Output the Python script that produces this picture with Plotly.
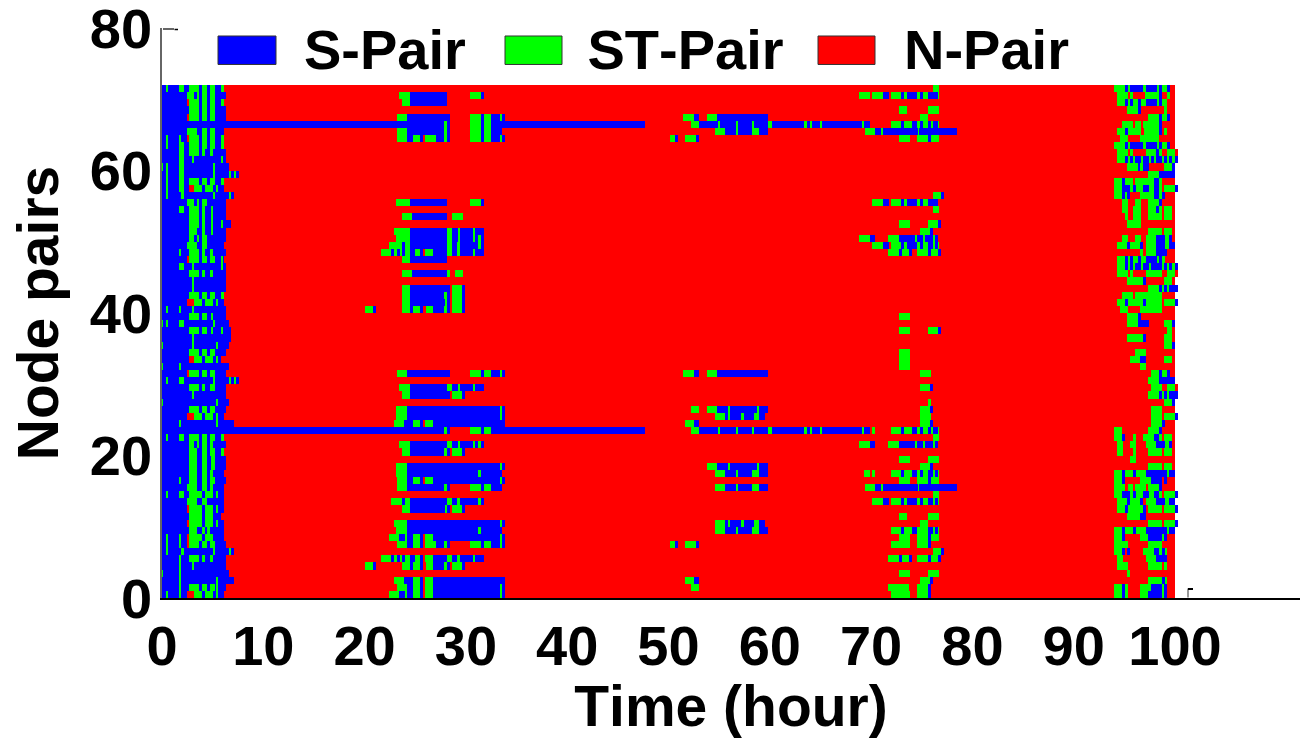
import numpy as np
import plotly.graph_objects as go

# Time is sampled in steps of SAMPLE_HOURS; run limits below are sample indices.
SAMPLE_HOURS = 100 / 1013
N_ROWS = 72
X_TICKS = [0, 10, 20, 30, 40, 50, 60, 70, 80, 90, 100]
Y_TICKS = [0, 20, 40, 60, 80]
STATE_NAMES = ["S-Pair", "ST-Pair", "N-Pair"]
STATE_COLORS = ["#0000ff", "#00ff00", "#ff0000"]

# Rows are counted from the top row (0) to the bottom row (71).
LEFT_S_END = [62,64,62,64,64,483,62,62,62,64,64,67,77,62,62,72,64,64,64,69,64,64,62,64,62,64,64,64,64,62,62,64,64,67,69,69,
              67,64,59,67,64,77,64,64,67,64,62,72,483,62,64,62,64,64,62,64,62,62,62,62,59,62,62,62,64,72,64,64,67,72,64,62]

ST_LEFT = {
0:[4,6,17,22,27,37,40,45,48,53,59,62],1:[25,32,35,37,40,45,48,53],2:[27,37,40,45,48,53,59,62],3:[27,37,40,45,48,53],
4:[27,37,40,45,48,53],6:[25,35,40,45,48,53],7:[4,6,17,19,27,37,40,45,48,53,59,62],8:[4,6,17,22,27,37,40,45,48,53,59,62],
9:[17,22,27,37,40,43,48,51],10:[17,22,30,32,59,61],11:[0,1,4,6,17,22,51,53],12:[4,6,17,22,51,53,67,69,72,74],
13:[4,6,17,22,27,37,40,45,48,53,59,62],14:[4,6,17,22,32,40,43,51,54,56],15:[4,6,19,22,51,53,67,69],16:[25,32,35,37,40,45],
17:[17,22,27,37,40,43,49,51],18:[27,37,40,43,49,51],19:[27,37,40,43,49,51,59,61],20:[27,35,40,43,49,51],21:[27,32,35,37,40,45],
22:[25,35,40,45],23:[17,19,27,37,40,43,48,51],24:[27,37,40,45,48,53,59,61],25:[17,22,30,32,59,61],26:[27,37,40,43,48,51],
27:[30,32],28:[30,32],29:[27,37,40,45,48,53,59,62],30:[32,40,43,51,54,56],31:[4,6,17,19,30,32],32:[27,37,40,45,49,51],
33:[0,1,4,6,17,22,51,53],34:[27,37,40,45,49,51,59,61],35:[30,32],36:[0,1,30,32,54,56],37:[27,37,40,45,48,53],38:[32,40,43,51,54,56],
39:[0,1,17,19],40:[27,37,40,45,48,53],41:[4,6,17,22,51,53,67,69,72,74],42:[27,37,40,43,48,53],43:[30,32],44:[0,1,54,56],
45:[27,37,40,45,48,53],46:[32,40,43,51,54,56],47:[17,19,54,56],49:[4,6,17,22,27,37,40,45,48,53,59,62],50:[27,32,35,37,40,45,48,51],
51:[27,35,40,45,48,53,59,62],52:[27,35,40,45,49,53],53:[27,35,40,45,49,53],54:[27,35,40,45,48,51],55:[17,19,27,35,40,45,48,53],
56:[25,35,40,45,48,51],57:[4,6,17,22,27,40,43,51,54,56],58:[25,35,40,45],59:[27,40,43,51,54,56],60:[27,40,43,51],
61:[27,40,43,51,54,56],62:[27,35,40,43,45,48],63:[4,6,17,19,27,40,43,51],64:[4,6,17,19,27,37,40,45,48,53],65:[4,6,19,22,51,53,67,69],
66:[17,19,27,37,40,43,48,51],67:[17,19,30,32],68:[0,1,17,19],69:[17,19,54,56],70:[17,19,27,37,40,45,48,53,54,56],
71:[4,6,17,19,32,40,43,51,54,56],
}
N_RUNS = {
2:[25,27],4:[25,27],7:[25,27,261,263],14:[27,32],24:[25,27],30:[25,32],38:[27,32],40:[25,27],46:[25,32],59:[25,27],61:[25,27],
63:[25,27,261,263],64:[25,27,261,263],71:[25,32,261,263],5:[288,308],48:[288,308],
23:[261,263],47:[261,263],55:[261,263],66:[261,263],69:[261,263],70:[261,263],31:[261,264],67:[261,264],
9:[1013,1016],26:[1013,1016],42:[1013,1016],
}

ST_MID = {
1:[237,248,308,319],2:[240,248],4:[235,245,308,319,322,329,338,340],5:[282,285,308,319,322,329],6:[235,245,282,285,308,319,322,329],
7:[235,245,251,258,263,274,282,285,308,319,322,329,338,340],16:[234,248,308,319],18:[240,250,290,301],20:[232,248,285,290,296,298,311,313],
21:[234,248,285,290,296,298,311,313,316,319],22:[227,240,243,248,285,290,295,298,316,319],
23:[219,229,232,235,238,240,243,248,253,258,263,271,285,290,295,298,311,313],24:[240,248],26:[240,250,285,288,293,301],
28:[240,248,290,300],29:[240,248,282,285,290,300],30:[240,248,283,285,290,300],31:[203,211,240,248,251,258,264,271,282,285,290,300],
40:[235,245,308,319,322,329,338,340],42:[237,248,285,290,296,298,311,313],43:[240,248,290,300],45:[234,245,338,340],46:[234,245,338,340],
47:[232,242,251,258,263,271],48:[282,285,308,319,322,329],50:[237,248,285,290,296,298,311,313,316,319],51:[240,248,282,285,290,300],
53:[234,245,338,340],54:[234,245,316,319],55:[235,245,251,258,263,271,338,340],56:[235,245,282,285,308,319,322,329],
58:[229,240,243,248,285,290,295,298,316,319],59:[240,248,283,285,290,300],61:[232,245,338,340],62:[234,245,316,319],
63:[227,237,243,245,251,258,263,271,338,340],64:[235,245,251,258,263,274,282,285,308,319,322,329,338,340],
66:[219,229,232,235,238,240,243,248,253,258,263,271,285,290,295,298,311,313],67:[203,211,240,248,251,258,264,271,282,285,290,300],
69:[232,242,251,258,263,271],70:[235,245,251,258,263,271,338,340],71:[227,237,243,245,251,258,263,271,338,340],
}
S_MID = {
1:[248,285,319,322],2:[248,285],4:[245,288,319,322,329,343],6:[245,288,319,322,329,340],7:[245,288,319,322,329,343],
16:[248,285,319,322],18:[250,285],20:[248,322],21:[248,322],22:[240,322],23:[229,322],24:[248,285],26:[250,285],
28:[248,288,300,303],29:[248,288,300,303],30:[248,288,300,303],31:[211,214,248,288,300,303],
40:[245,288,319,322,329,343],42:[248,322],43:[248,288,300,303],45:[245,343],46:[245,343],47:[242,343],50:[248,322],51:[248,288,300,303],
53:[245,343],54:[245,340],55:[245,343],56:[245,288,319,322,329,340],58:[240,322],59:[248,288,300,303],61:[245,343],62:[245,340],
63:[237,343],64:[245,288,319,322,329,343],66:[229,322],67:[211,214,248,288,300,303],69:[242,343],70:[245,343],71:[237,343],
5:[319,322,329,483],48:[319,322,329,483],
}

ST_C = {
4:[521,532,545,555],5:[529,537,556,558,574,576,590,592,606,610,642,645,648,650,658,660,700,702],6:[553,563,574,576,590,597],7:[508,513,523,534],
40:[521,532,545,555],45:[529,537,545,555,566,568,595,597],46:[553,563,566,568,579,582,592,597],47:[523,532],
48:[529,537,556,558,574,576,590,592,606,610,642,645,648,650,658,660,700,702],53:[545,555,566,568,595,597],54:[553,563,574,576,590,597],
56:[553,563,574,576,590,597],61:[553,563,566,568,579,582,592,597],62:[553,563,574,576,590,597],64:[508,513,523,534],69:[523,532],70:[529,537],
}
S_C = {
4:[532,537,555,606],5:[537,708],6:[563,606],7:[513,516,534,537],40:[532,537,555,606],45:[555,606],46:[563,603],47:[532,537],48:[537,708],
53:[555,606],54:[563,606],56:[563,606],61:[563,603],62:[563,606],64:[513,516,534,537],69:[532,537],
}

ST_D = {
0:[771,777],1:[697,708,710,721,729,739,742,745,755,758,761,766,776,777],3:[737,745,766,777],4:[758,766],
5:[729,739,742,750,755,758,761,766,769,771,776,777],6:[703,713,719,721,756,757],7:[737,748,755,766,769,777],15:[771,779],
16:[710,721,729,739,742,745,755,758,761,766],17:[771,777],19:[737,748,766,776],20:[758,768],21:[697,708,726,737,753,755,761,763,771,773],
22:[710,721,729,739,742,745,755,758,761,766,771,773,776,777],23:[726,737,740,747,755,766,769,776],32:[737,748],34:[737,748,766,776],
37:[737,748],38:[737,748],39:[737,748],40:[758,769],42:[758,768],44:[766,769],45:[758,768],46:[758,769],47:[758,768],
48:[710,713,729,739,742,750,755,758,761,766,769,771,776,777],49:[771,777],50:[697,708,726,737,753,755,761,763,771,773],52:[737,748,766,777],
53:[758,768],54:[702,708,710,713,729,739,742,750,755,758,761,766,771,773,776,777],55:[737,748,755,766,769,777],56:[703,713,719,721,756,757],
57:[771,777],58:[710,721,729,739,742,745,755,758,761,766,771,773,776,777],60:[737,745,766,777],61:[758,766],
62:[729,739,742,750,755,766,771,773,776,777],63:[737,748,755,766,769,777],64:[729,748,755,766],65:[771,779],
66:[726,737,740,747,755,766,769,776],68:[737,748,766,777],69:[758,768],70:[726,747,755,766],71:[729,748,755,766],
}
S_D = {
1:[721,727,739,742,745,755,758,761,766,776],5:[739,742,750,755,758,761,766,769,771,776],6:[713,795],7:[766,769],15:[779,782],
16:[721,727,739,742,745,755,758,761,766,776],19:[776,779],20:[768,771],21:[708,713,737,776],22:[721,727,739,776],23:[737,740,747,750,766,769,776,779],
34:[776,779],42:[768,771],45:[768,771],47:[768,771],48:[739,742,750,755,758,761,766,769,771,776],50:[708,713,737,776],53:[768,771],54:[739,776],
55:[766,769],56:[713,795],58:[721,727,739,776],62:[739,776],63:[766,769],64:[766,769],65:[779,782],66:[737,740,747,750,766,769,776,779],
69:[768,771],70:[766,769],71:[766,769],
}

ST_E = {
0:[952,963,966,968,981,984,995,997,1000,1005],1:[955,966,968,971,983,997,1005,1008],2:[955,963,966,968,971,976,979,984,995,997,1000,1005],
3:[965,976,1002,1005],4:[986,997,1000,1005],5:[960,971,973,979,981,997],6:[955,963,966,979,982,997,1002,1005],7:[958,966,978,997],
8:[952,963,966,968,981,984,995,997,1000,1005],9:[955,966,968,971,984,994,997,1000,1005,1013],
10:[955,963,966,968,971,973,979,981,987,989,992,994,1000,1002,1005,1007,1010,1013],11:[965,976,978,981,1002,1010],12:[986,997],
13:[952,960,963,971,973,992,997,1000],14:[952,960,968,971,974,981,987,992,997,1000,1002,1013],15:[952,960,963,965,978,992,997,1000],
16:[960,966,973,979,986,997],17:[960,966,971,979,986,994,997,1000,1002,1010],18:[963,966,971,979,986,1000,1002,1010],19:[965,979],
20:[986,1000,1002,1010],21:[960,966,973,979,984,994,1003,1007],22:[955,965,968,978,984,994,1003,1007],23:[978,981,984,994],
24:[955,963,966,968,971,976,979,984,995,997,1000,1003],25:[955,963,966,968,971,973,979,981,987,989,1000,1002,1005,1007,1010,1013],
26:[955,966,968,971,984,1000,1005,1013],27:[965,981,1002,1010],28:[986,997,1000,1002,1005,1007],29:[960,971,973,1000],
30:[955,963,966,981,984,1000,1002,1013],31:[958,966,978,1000],32:[965,976],33:[965,976,1002,1010],34:[1005,1010],35:[965,981,1002,1010],
36:[1002,1010],37:[973,984],38:[968,978,1002,1010],39:[978,984],40:[989,997,1000,1005],41:[986,997],42:[989,1000,1005,1013],
43:[986,997,1000,1002,1005,1007],44:[1002,1010],45:[989,1000],46:[989,1000,1002,1013],47:[989,1000],48:[952,960,986,997],
49:[952,960,971,974,981,992,997,1000,1002,1010],50:[955,961,968,974,984,994,1003,1007],51:[955,961,971,974,986,1000,1002,1010],52:[968,974],
53:[986,1000,1002,1010],54:[952,960,963,971,974,984,1005,1007],55:[952,960,978,989],56:[952,963,966,971,973,984,986,997],
57:[952,960,968,971,974,981,987,992,997,1000,1002,1013],58:[955,965,968,978,984,994,1003,1007],59:[955,963,966,981,986,1000,1002,1013],
60:[965,978],61:[986,1000,1002,1013],62:[952,960,963,971,974,984,1005,1007],63:[952,960,978,986,1000,1002],64:[952,966,986,1000],
65:[952,960,981,992,997,1000,1003,1005],66:[955,961,984,994],67:[955,966,986,1000,1002,1005],68:[965,968],69:[986,1000,1003,1005],
70:[952,960,963,966,978,989,1000,1002],71:[952,960,963,966,978,986,1000,1002],
}
S_E = {
0:[963,1008],1:[997,1000],2:[963,1000],3:[976,979],4:[997,1000,1005,1008],5:[997,1000],6:[963,966,997,1000],8:[963,1008],9:[994,997],
10:[963,1016],11:[976,987,1010,1013],12:[997,1013],13:[960,963,992,997],14:[960,974,981,987,992,997,1013,1016],15:[960,963,965,968,992,997,1000,1003],
16:[997,1000],17:[994,997],21:[994,1003,1007,1010],22:[965,968,978,981,994,1003,1007,1013],23:[994,1005],24:[963,1000],25:[963,1016],
27:[981,984],28:[997,1016],30:[963,966,981,984,1013,1016],32:[976,979],33:[976,987,1010,1013],35:[981,984],36:[1010,1013],38:[978,984],
40:[997,1000,1005,1008],41:[997,1013],43:[997,1016],44:[1010,1013],46:[1013,1016],47:[1000,1003],48:[997,1000],49:[960,963,992,997],
50:[994,1003,1007,1010],54:[960,963,971,974,984,1005,1007,1013],55:[960,963,989,1000,1002,1005],56:[997,1000],
57:[960,968,971,974,981,987,992,997,1013,1016],58:[965,968,978,981,994,1003,1007,1013],59:[963,966,981,984,1013,1016],60:[978,984],61:[1013,1016],
62:[960,963,971,974,984,1005,1007,1013],63:[960,963,986,1000,1002,1005],65:[960,963,965,968,992,997,1000,1003],66:[994,1005],69:[1000,1003],
70:[960,963,989,1000,1002,1005],71:[960,963,986,1000,1002,1005],
}

S_CODE, ST_CODE, N_CODE = 0, 1, 2
n_cols = 1016
z = np.full((N_ROWS, n_cols), np.nan)


def paint(row, runs, code):
    for a, b in zip(runs[0::2], runs[1::2]):
        z[row, a:b] = code


for t in range(N_ROWS):
    s_runs = [0, LEFT_S_END[t]]
    for table in (S_MID, S_C, S_D, S_E):
        s_runs = s_runs + table.get(t, [])
    st_runs = []
    for table in (ST_LEFT, ST_MID, ST_C, ST_D, ST_E):
        st_runs = st_runs + table.get(t, [])
    n_runs = N_RUNS.get(t, [])
    row_end = max([1013] + s_runs + st_runs + n_runs)
    z[t, :row_end] = N_CODE
    paint(t, s_runs, S_CODE)
    paint(t, st_runs, ST_CODE)
    paint(t, n_runs, N_CODE)

x_centres = (np.arange(n_cols) + 0.5) * SAMPLE_HOURS
y_centres = N_ROWS - 0.5 - np.arange(N_ROWS)

fig = go.Figure(go.Heatmap(
    z=z, x=x_centres, y=y_centres, zmin=0, zmax=2, zsmooth=False, showscale=False, hoverongaps=False,
    colorscale=[[0, STATE_COLORS[0]], [1/3, STATE_COLORS[0]], [1/3, STATE_COLORS[1]], [2/3, STATE_COLORS[1]],
                [2/3, STATE_COLORS[2]], [1, STATE_COLORS[2]]],
))

FONT = dict(family="Liberation Sans", size=56, color="#000000", weight=700)
TITLE_FONT = dict(family="Liberation Sans", size=57, color="#000000", weight=700)
L, B_Y, W, H = 162, 598.5, 1138, 570.5

fig.update_layout(
    width=1300, height=738, paper_bgcolor="white", plot_bgcolor="white",
    margin=dict(l=L, r=0, t=28, b=139.5, autoexpand=False), font=FONT, showlegend=False,
    xaxis=dict(range=[0, W / 10.13], tickmode="array", tickvals=X_TICKS, ticks="", showgrid=False, zeroline=False,
               showline=True, linecolor="#000000", linewidth=1.5, tickfont=FONT, layer="below traces",
               ticklabelstandoff=-2, ticklabeloverflow="allow",
               title=dict(text="Time (hour)", font=TITLE_FONT, standoff=12)),
    yaxis=dict(range=[0, 80], tickmode="array", tickvals=Y_TICKS, ticks="", showgrid=False, zeroline=False,
               showline=True, linecolor="#666666", linewidth=1.5, tickfont=FONT, layer="below traces",
               ticklabelstandoff=-3, ticklabeloverflow="allow",
               title=dict(text="Node pairs", font=TITLE_FONT, standoff=13)),
)


def px(v):
    return (v - L) / W


def py(v):
    return (B_Y - v) / H


# legend drawn by hand: swatches and labels (page pixels)
SWATCH_SPANS = [(218, 276), (505, 562), (818, 875)]
LABEL_STARTS = [305, 590, 905]
for name, colour, (a, b), lx in zip(STATE_NAMES, STATE_COLORS, SWATCH_SPANS, LABEL_STARTS):
    fig.add_shape(type="rect", xref="paper", yref="paper", x0=px(a), x1=px(b), y0=py(64.5), y1=py(36),
                  fillcolor=colour, line=dict(color="#333333", width=1))
    fig.add_annotation(xref="paper", yref="paper", x=px(lx), y=py(50), xanchor="left", yanchor="middle", showarrow=False,
                       text=name, font=FONT, xshift=-3)

# tiny tick stubs left at the top of the y axis and right of the data
fig.add_shape(type="line", xref="paper", yref="paper", x0=px(163), x1=px(174), y0=py(29), y1=py(29),
              line=dict(color="#333333", width=1.5))
fig.add_shape(type="line", xref="paper", yref="paper", x0=px(174.5), x1=px(178), y0=py(29.5), y1=py(29.5),
              line=dict(color="#000000", width=1.5))
fig.add_shape(type="line", xref="paper", yref="paper", x0=px(1188), x1=px(1188), y0=py(598), y1=py(589),
              line=dict(color="#777777", width=1.5))
fig.add_shape(type="line", xref="paper", yref="paper", x0=px(1188), x1=px(1193), y0=py(589.5), y1=py(589.5),
              line=dict(color="#000000", width=2))

PAGE_SETUP = (
    "document.body.style.margin='0';document.body.style.overflow='hidden';"
    "var s=document.createElement('style');s.textContent='text{font-kerning:none}';document.head.appendChild(s);"
)
fig.write_html("out.html", post_script=PAGE_SETUP, config={"displayModeBar": False})
